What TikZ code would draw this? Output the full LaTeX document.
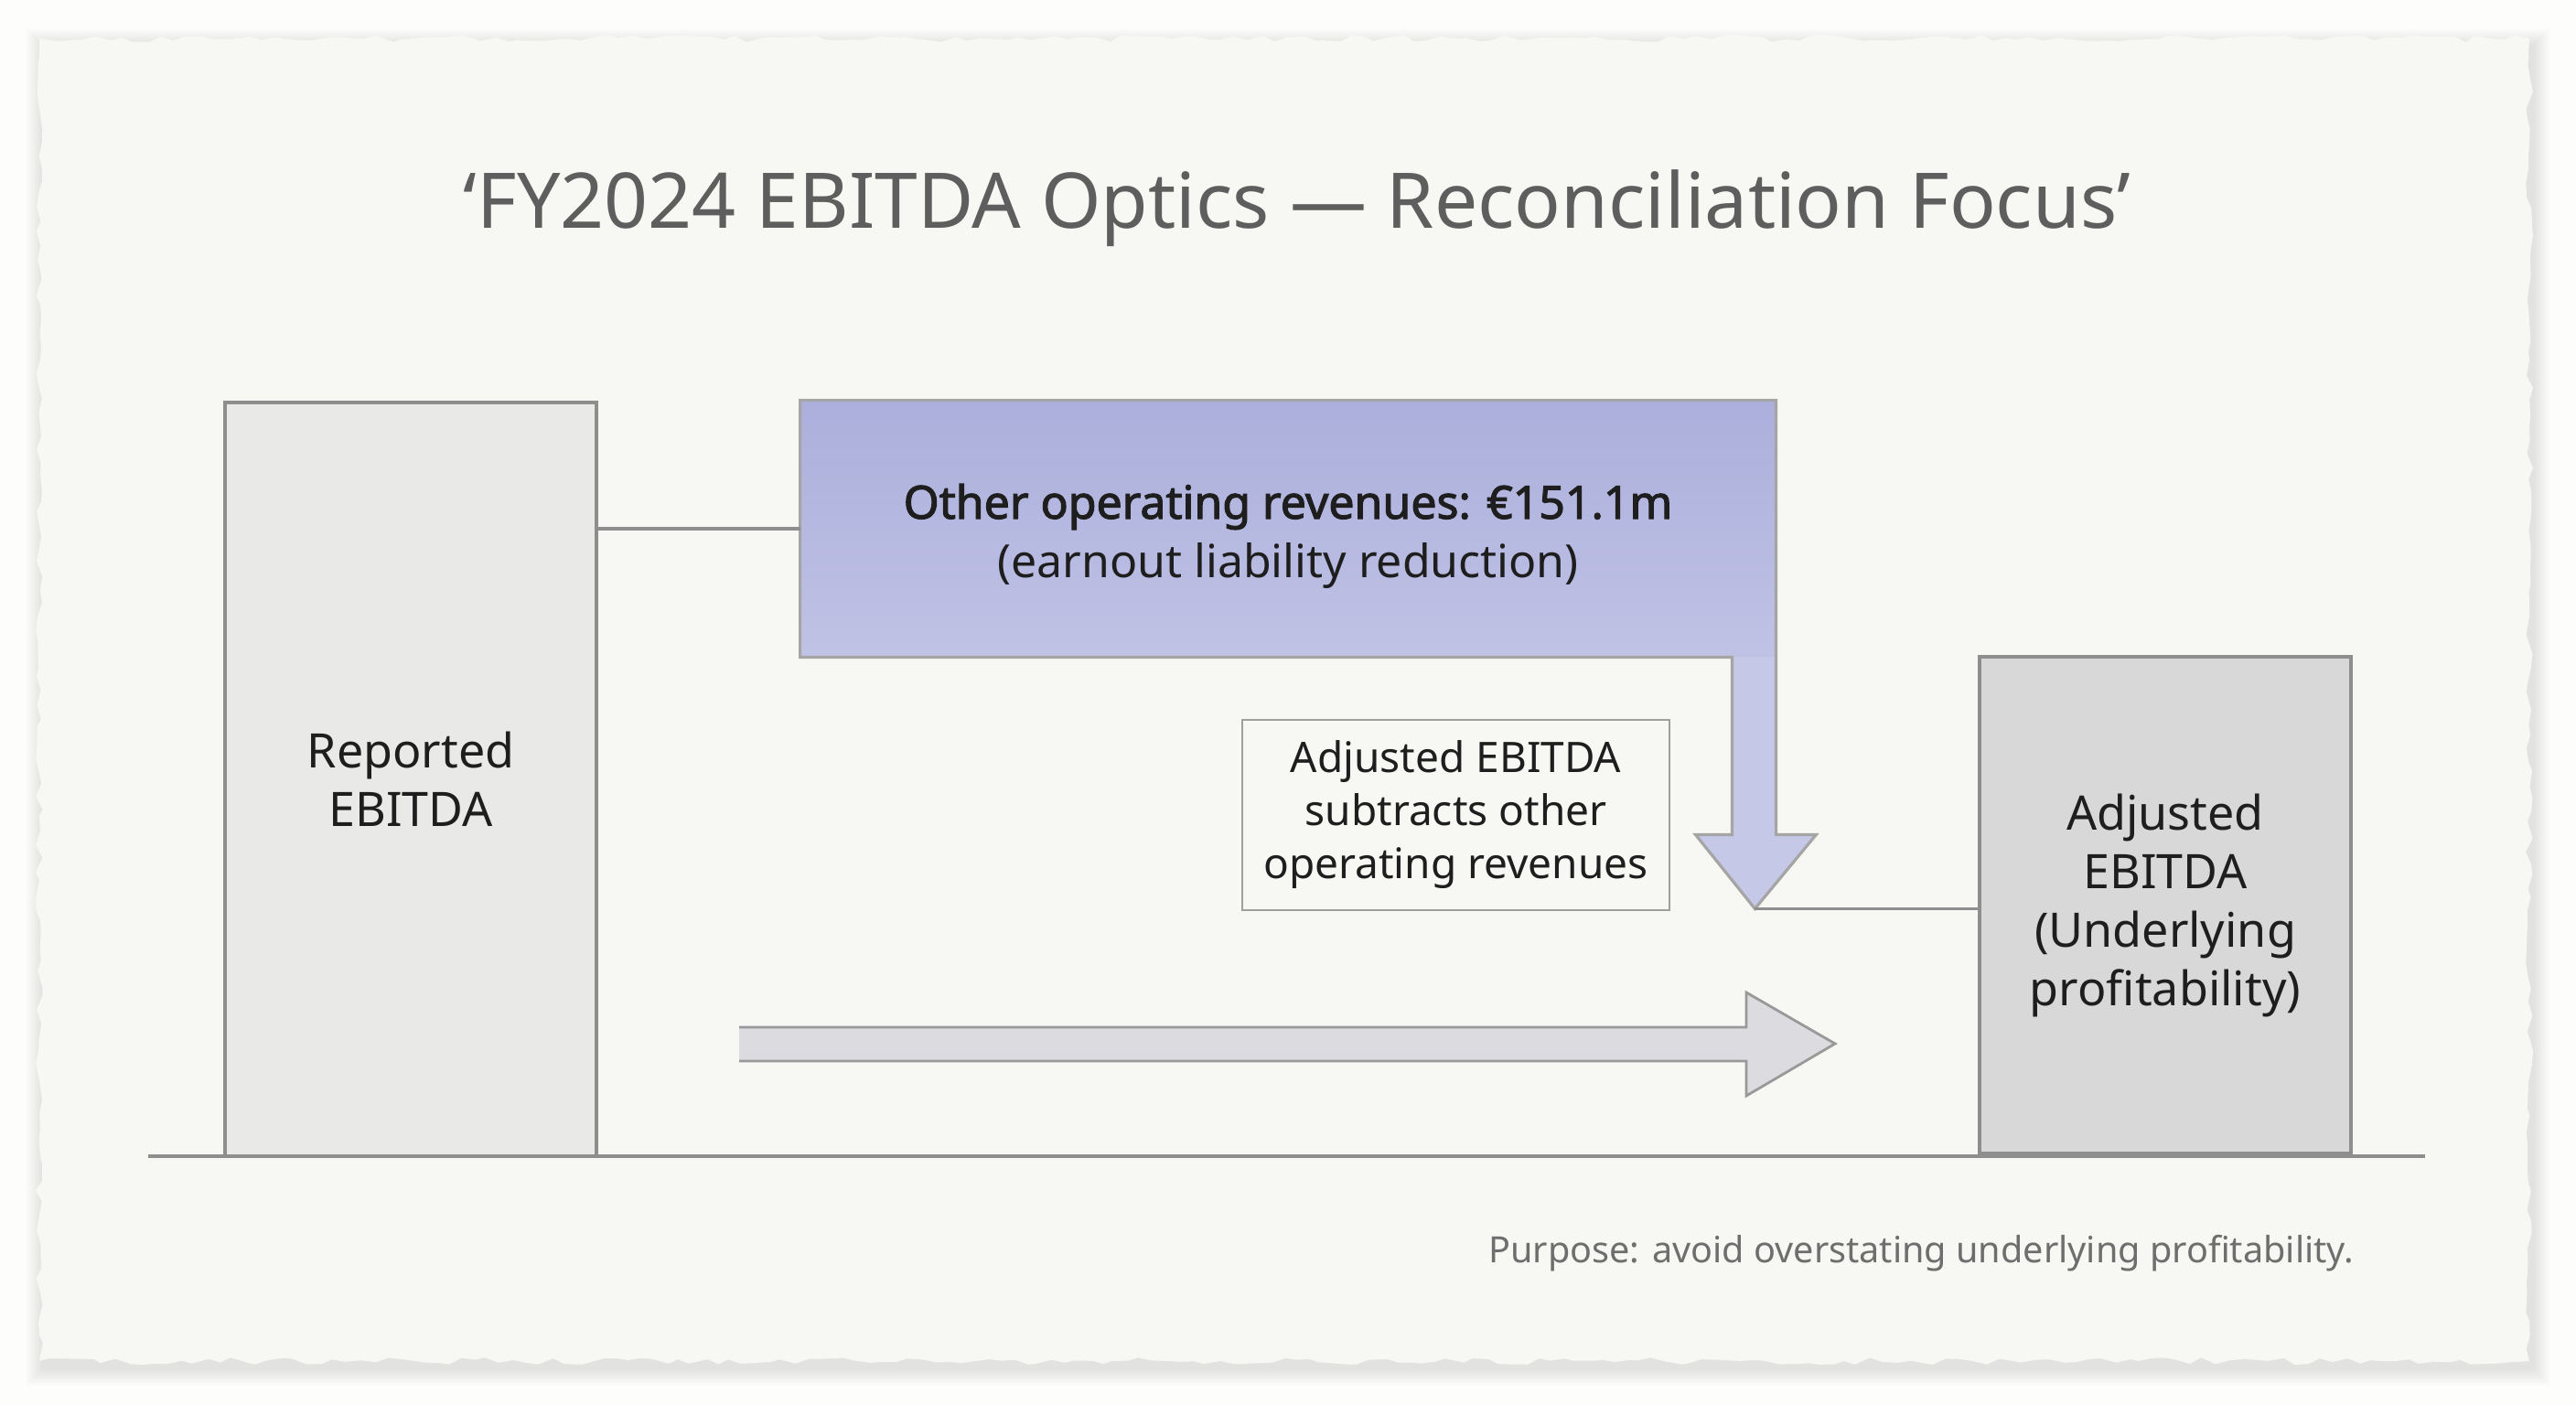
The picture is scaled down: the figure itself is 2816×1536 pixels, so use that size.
\documentclass[tikz,border=0pt]{standalone}
\usepackage{fontspec}
\setmainfont{Noto Sans}
\newfontfamily\orebold{Noto Sans}[FakeBold=2.2]
\usetikzlibrary{calc,decorations.pathmorphing}
\definecolor{bgwhite}{HTML}{FDFDFC}
\definecolor{paper}{HTML}{F7F7F3}
\definecolor{pencil}{HTML}{8E8E8E}
\definecolor{barlight}{HTML}{E9E9E7}
\definecolor{bardark}{HTML}{D8D8D8}
\definecolor{lavtop}{HTML}{ABAFDB}
\definecolor{lavbot}{HTML}{C0C2E5}
\definecolor{lavshaft}{HTML}{C6C8E8}
\definecolor{arrowgray}{HTML}{DCDCE0}
\definecolor{titlegray}{HTML}{5E5E5E}
\definecolor{footgray}{HTML}{6E6E6E}
\definecolor{ink}{HTML}{1E1E1E}
\tikzset{
  pencilline/.style={draw=pencil, line width=1.6pt},
  barbox/.style={pencilline, line width=2pt, inner sep=0pt, align=center, text=ink,
    font=\fontsize{26}{32}\selectfont},
  notebox/.style={draw=pencil!85, line width=1.3pt, fill=paper, inner sep=0pt, align=center,
    text=ink, font=\fontsize{23}{29}\selectfont, minimum width=233.5pt, minimum height=104pt},
}
\begin{document}
\begin{tikzpicture}[x=0.5pt, y=-0.5pt]
\useasboundingbox (0,0) rectangle (2816,1536);
\fill[bgwhite] (0,0) rectangle (2816,1536);
% paper shadow
\foreach \s in {2,4,...,18} {
  \fill[black, opacity=0.010] (43-\s+4, 42-\s+8) rectangle (2765+\s+4, 1488+\s+8);
}
\pgfmathsetseed{11}
\fill[paper, decorate, decoration={random steps, segment length=7pt, amplitude=2pt}]
  (43,42) rectangle (2765,1488);

% title
\node[anchor=base, text=titlegray, font=\fontsize{42}{50}\selectfont] (title)
  at (1418,249) {‘FY2024 EBITDA Optics — Reconciliation Focus’};

% baseline
\coordinate (gl) at (162,1264);
\coordinate (gr) at (2651,1264);

% bars
\node[barbox, fill=barlight, minimum width=203pt, minimum height=412pt] (rep)
  at (449,852) {Reported\\EBITDA};
\node[barbox, fill=bardark, minimum width=203pt, minimum height=271.5pt] (adj)
  at (2367,989.5) {Adjusted\\EBITDA\\(Underlying\\profitability)};
\draw[pencilline] (gl) -- (gr);

% purple box with down arrow
\node[top color=lavtop, bottom color=lavbot, inner sep=0pt, minimum width=533pt,
  minimum height=140pt] (ore) at (1408,578) {};
\node[align=center, text=ink, inner sep=0pt, font=\fontsize{25}{32}\selectfont] (oretxt)
  at ($(ore.center)+(0,8)$) {{\orebold Other operating revenues: €151.1m}\\(earnout liability reduction)};
\coordinate (sl) at ($(ore.south east)+(-48,0)$);
\coordinate (tip) at ($(ore.south east)+(-23,275)$);
\fill[lavshaft] (sl) -- ($(sl)+(0,194)$) -- ($(sl)+(-40,194)$) -- (tip)
  -- ($(ore.south east)+(44,194)$) -- ($(ore.south east)+(0,194)$) -- (ore.south east) -- cycle;
\draw[draw=pencil!80, line width=1.6pt] (ore.south west) -- (sl) -- ($(sl)+(0,194)$) -- ($(sl)+(-40,194)$) -- (tip)
  -- ($(ore.south east)+(44,194)$) -- ($(ore.south east)+(0,194)$) -- (ore.north east) -- (ore.north west) -- cycle;

% connectors
\draw[pencilline] (ore.west) -- (ore.west -| rep.east);
\draw[pencilline] (tip) -- (tip -| adj.west);

% note
\node[notebox] (note) at (1591.5,891) {Adjusted EBITDA\\subtracts other\\operating revenues};

% big gray arrow
\coordinate (ga) at (808,1141);
\coordinate (gt) at (2006,1141);
\fill[arrowgray] (ga) ++(0,-18) -- ++(1101,0) -- ++(0,-38) -- (gt) -- ++(-97,57) -- ++(0,-38) -- ++(-1101,0) -- cycle;
\draw[pencilline, line width=1.4pt, draw=pencil!90] (ga) ++(0,-18) -- ++(1101,0) -- ++(0,-38) -- (gt) -- ++(-97,57) -- ++(0,-38) -- ++(-1101,0);

% footer
\node[anchor=base east, text=footgray, font=\fontsize{19.8}{24}\selectfont] (foot)
  at (2580,1380) {Purpose: avoid overstating underlying profitability.};
\end{tikzpicture}
\end{document}
